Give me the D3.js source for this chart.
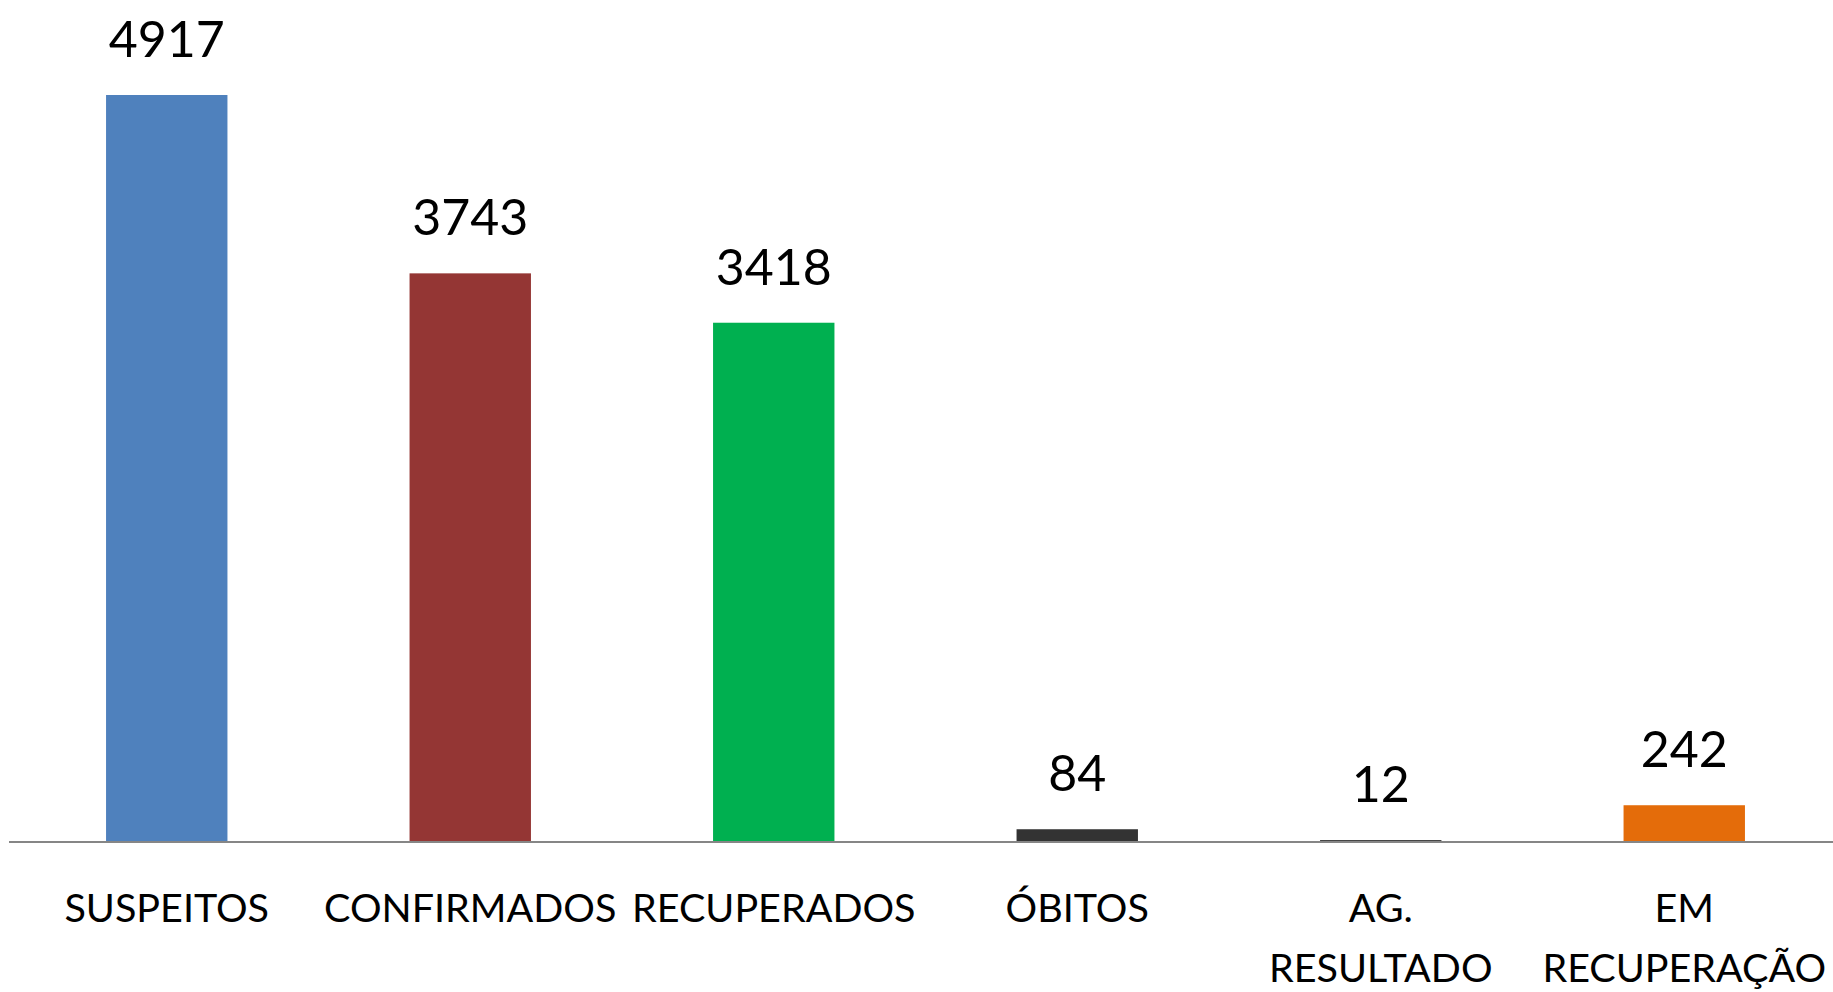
<!DOCTYPE html>
<html lang="pt">
<head>
<meta charset="UTF-8">
<title>Casos</title>
<script src="https://d3js.org/d3.v7.min.js"></script>
<style>
  html, body { margin: 0; padding: 0; background: #fff; }
  svg { display: block; }
  .value-label { font-family: Lato, "Open Sans", sans-serif; font-size: 50px; fill: #000; text-anchor: middle; }
  .cat-label { font-family: Lato, "Open Sans", sans-serif; font-size: 39.5px; fill: #000; text-anchor: middle; }
</style>
</head>
<body>
<div id="chart"></div>
<script>
// data
const categories = ["SUSPEITOS", "CONFIRMADOS", "RECUPERADOS", "ÓBITOS", "AG. RESULTADO", "EM RECUPERAÇÃO"];
const values = [4917, 3743, 3418, 84, 12, 242];
const colors = ["#4f81bd", "#943634", "#00b050", "#333333", "#1f1f1f", "#e46c0a"];
// category labels that wrap onto two lines
const labelLines = [["SUSPEITOS"], ["CONFIRMADOS"], ["RECUPERADOS"], ["ÓBITOS"], ["AG.", "RESULTADO"], ["EM", "RECUPERAÇÃO"]];

const W = 1833, H = 992;
const baseY = 842;   // axis line
const topY = 95;     // top of the tallest bar

const svg = d3.select("#chart").append("svg")
  .attr("width", W)
  .attr("height", H);

const x = d3.scaleBand()
  .domain(categories)
  .range([15, 1836])
  .paddingInner(0.6)
  .paddingOuter(0.3);

const y = d3.scaleLinear()
  .domain([0, d3.max(values)])
  .range([baseY, topY]);

const rows = categories.map((c, i) => ({ cat: c, value: values[i], color: colors[i], lines: labelLines[i] }));

// bars
svg.selectAll(".bar")
  .data(rows)
  .enter().append("rect")
  .attr("class", "bar")
  .attr("x", d => x(d.cat))
  .attr("y", d => y(d.value))
  .attr("width", x.bandwidth())
  .attr("height", d => baseY - y(d.value))
  .attr("fill", d => d.color);

// axis line (no ticks in the original)
svg.append("line")
  .attr("x1", 9)
  .attr("x2", W)
  .attr("y1", baseY)
  .attr("y2", baseY)
  .attr("stroke", "#868686")
  .attr("stroke-width", 2);

// value labels above each bar
svg.selectAll(".value-label")
  .data(rows)
  .enter().append("text")
  .attr("class", "value-label")
  .attr("x", d => x(d.cat) + x.bandwidth() / 2)
  .attr("y", d => y(d.value) - 38)
  .text(d => d.value);

// category labels below the axis
const cats = svg.selectAll(".cat-label")
  .data(rows)
  .enter().append("text")
  .attr("class", "cat-label")
  .attr("x", d => x(d.cat) + x.bandwidth() / 2)
  .attr("y", 922);

cats.selectAll("tspan")
  .data(d => d.lines.map(l => ({ l, cx: x(d.cat) + x.bandwidth() / 2 })))
  .enter().append("tspan")
  .attr("x", d => d.cx)
  .attr("dy", (d, i) => i === 0 ? 0 : 60)
  .text(d => d.l);
</script>
</body>
</html>
